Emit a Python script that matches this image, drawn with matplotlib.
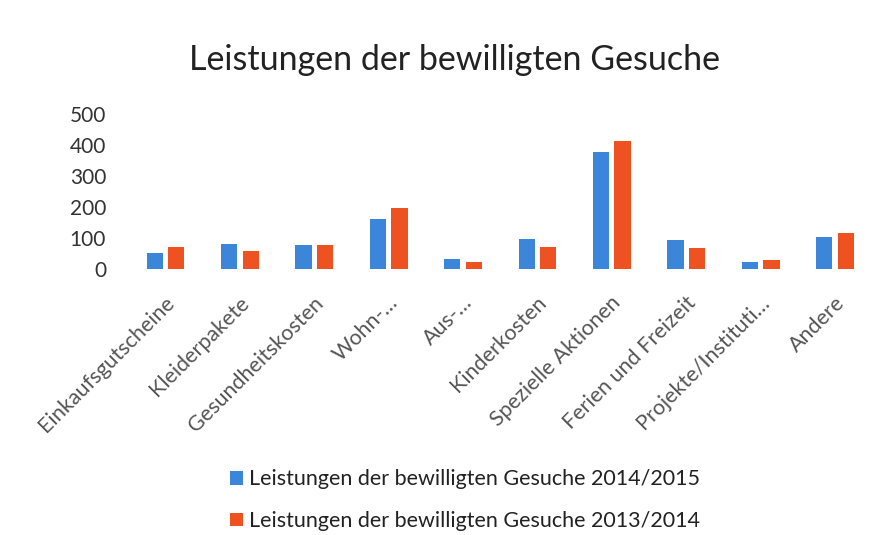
import numpy as np
import matplotlib
matplotlib.use("Agg")
import matplotlib.pyplot as plt
import matplotlib.transforms as mtransforms

# categories and values
categories = ["Einkaufsgutscheine", "Kleiderpakete", "Gesundheitskosten", "Wohn-\u2026",
              "Aus-\u2026", "Kinderkosten", "Spezielle Aktionen", "Ferien und Freizeit",
              "Projekte/Instituti\u2026", "Andere"]
werte_2014_2015 = [53, 80, 77, 160, 33, 97, 377, 94, 23, 102]
werte_2013_2014 = [72, 58, 78, 196, 24, 71, 412, 68, 28, 115]
serien = ["Leistungen der bewilligten Gesuche 2014/2015",
          "Leistungen der bewilligten Gesuche 2013/2014"]
yticks = [0, 100, 200, 300, 400, 500]

blau = "#3b86d8"
orange = "#ee5220"
textfarbe = "#555555"

plt.rcParams['font.family'] = ['Lato', 'DejaVu Sans']

fig = plt.figure(figsize=(8.91, 5.35), dpi=100)
ax = fig.add_axes([0.144, 0.497, 0.835, 0.29])

x = np.arange(len(categories))
w = 0.22
ax.bar(x - 0.145, werte_2014_2015, w, color=blau, label=serien[0])
ax.bar(x + 0.145, werte_2013_2014, w, color=orange, label=serien[1])

ax.set_xlim(-0.5, len(categories) - 0.5)
ax.set_ylim(0, 500)
ax.set_yticks(yticks)
ax.set_yticklabels([str(v) for v in yticks], fontsize=15, color="#333333")
ax.tick_params(axis='y', length=0, pad=16)
ax.tick_params(axis='x', length=0, pad=22)
for s in ax.spines.values():
    s.set_visible(False)

ax.set_xticks(x)
ax.set_xticklabels(categories, rotation=45, ha='right', va='center',
                   rotation_mode='anchor', fontsize=15.5, color=textfarbe)
offset = mtransforms.ScaledTranslation(6 / 100, 0, fig.dpi_scale_trans)
for lab in ax.get_xticklabels():
    lab.set_transform(lab.get_transform() + offset)

fig.text(0.51, 0.888, "Leistungen der bewilligten Gesuche", ha='center', va='center',
         fontsize=24.5, color="#222222")

fig.legend(loc='center', bbox_to_anchor=(0.522, 0.065), ncol=1, frameon=False,
           fontsize=15.5, handlelength=0.6, handleheight=0.6, handletextpad=0.3,
           labelspacing=1.0, labelcolor="#222222")

fig.savefig("out.png", dpi=100, facecolor="white")
